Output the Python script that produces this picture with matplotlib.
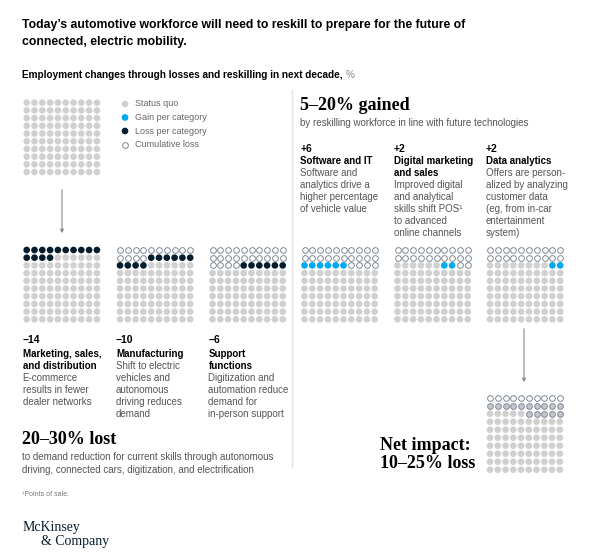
import matplotlib.pyplot as plt
import numpy as np

# values
loss_values = [-14, -10, -6]
loss_titles = ['Marketing, sales,\nand distribution', 'Manufacturing', 'Support\nfunctions']
loss_notes = ['E-commerce\nresults in fewer\ndealer networks',
              'Shift to electric\nvehicles and\nautonomous\ndriving reduces\ndemand',
              'Digitization and\nautomation reduce\ndemand for\nin-person support']
gain_values = [6, 2, 2]
gain_titles = ['Software and IT', 'Digital marketing\nand sales', 'Data analytics']
gain_notes = ['Software and\nanalytics drive a\nhigher percentage\nof vehicle value',
              'Improved digital\nand analytical\nskills shift POS\u00b9\nto advanced\nonline channels',
              'Offers are person-\nalized by analyzing\ncustomer data\n(eg, from in-car\nentertainment\nsystem)']
net_open_cells = list(range(0, 20)) + list(range(25, 30))

GREY = '#d0d0d0'
BLUE = '#00a9f4'
NAVY = '#051c2c'
RING = '#7d8894'
TXT = '#555555'
SANS = 'Liberation Sans'
SERIF = 'Liberation Serif'


def draw_grid(ax, x0, y0, states, dx=7.8, dy=7.7):
    """Draw a 10x10 dot grid from a list of 100 state codes."""
    idx = np.arange(100)
    xs = x0 + (idx % 10) * dx
    ys = y0 + (idx // 10) * dy
    states = np.array(states)
    style = {'q': dict(c=GREY, edgecolors='none'),
             'g': dict(c=BLUE, edgecolors='none'),
             'l': dict(c=NAVY, edgecolors='none'),
             'o': dict(c='white', edgecolors=RING, linewidths=0.7),
             'h': dict(c='#c4c8cc', edgecolors=RING, linewidths=0.7)}
    for k, st in style.items():
        m = states == k
        if m.any():
            size = 17 if k in 'oh' else 23
            ax.scatter(xs[m], ys[m], s=size, **st, zorder=3)


fig = plt.figure(figsize=(6.05, 5.59), dpi=100)
ax = fig.add_axes([0, 0, 1, 1])
ax.set_xlim(0, 605)
ax.set_ylim(559, 0)
ax.axis('off')

# header
ax.text(22, 25, 'Today\u2019s automotive workforce will need to reskill to prepare for the future of',
        fontsize=8.8, fontweight='bold', family=SANS, va='center')
ax.text(22, 42, 'connected, electric mobility.', fontsize=8.8, fontweight='bold', family=SANS, va='center')
t = ax.text(22, 75, 'Employment changes through losses and reskilling in next decade, ',
            fontsize=7.2, fontweight='bold', family=SANS, va='center')
ax.annotate('%', xycoords=t, xy=(1, 0.5), va='center', fontsize=7.2, family=SANS, color='#888888')

# status quo + legend
draw_grid(ax, 26.7, 102.7, ['q'] * 100)
legend = [('Status quo', 'q'), ('Gain per category', 'g'), ('Loss per category', 'l'), ('Cumulative loss', 'o')]
for i, (lab, code) in enumerate(legend):
    y = 104 + i * 13.5
    draw_grid(ax, 125, y, [code] + [''] * 99)
    ax.text(135, y, lab, fontsize=6.5, family=SANS, color='#666666', va='center')

ax.annotate('', xy=(62, 236), xytext=(62, 187),
            arrowprops=dict(arrowstyle='-|>', color='#888888', lw=0.8, mutation_scale=5))

# loss panels
xs_left = [26.7, 120, 212.5]
cum = 0
for k, v in enumerate(loss_values):
    n = -v
    states = ['o'] * cum + ['l'] * n + ['q'] * (100 - cum - n)
    draw_grid(ax, xs_left[k], 250, states)
    cum += n
    tx = xs_left[k] - 4
    ax.text(tx, 340, '\u2212%d' % n, fontsize=7.5, fontweight='bold', family=SANS, va='center')
    ax.text(tx, 349, loss_titles[k], fontsize=7, fontweight='bold', family=SANS, va='top', linespacing=1.25)
    nl = loss_titles[k].count('\n') + 1
    ax.text(tx, 349 + nl * 11.8, loss_notes[k], fontsize=7, family=SANS, color=TXT, va='top', linespacing=1.25)

total_loss = cum
total_gain = sum(gain_values)

# gain panels
xs_right = [304.5, 397.5, 490]
start = total_loss - total_gain
done = 0
for k, v in enumerate(gain_values):
    states = ['o'] * start + ['q'] * done + ['g'] * v + ['o'] * (total_loss - start - done - v)
    states += ['q'] * (100 - len(states))
    draw_grid(ax, xs_right[k], 250, states)
    done += v
    tx = xs_right[k] - 4
    ax.text(tx, 149, '+%d' % v, fontsize=7.5, fontweight='bold', family=SANS, va='center')
    ax.text(tx, 156, gain_titles[k], fontsize=7, fontweight='bold', family=SANS, va='top', linespacing=1.25)
    nl = gain_titles[k].count('\n') + 1
    ax.text(tx, 156 + nl * 11.8, gain_notes[k], fontsize=7, family=SANS, color=TXT, va='top', linespacing=1.25)

# net impact
net_states = ['q'] * 100
for c in net_open_cells:
    net_states[c] = 'o' if c < 10 else 'h'
draw_grid(ax, 490, 397.7, net_states, dx=7.75, dy=8.0)
ax.annotate('', xy=(524, 385), xytext=(524, 326),
            arrowprops=dict(arrowstyle='-|>', color='#888888', lw=0.8, mutation_scale=5))

# divider
ax.plot([292, 292], [90, 467], color='#e4e4e4', lw=1)

# headlines
ax.text(300, 105, '5\u201320% gained', fontsize=13, fontweight='bold', family=SERIF, va='center')
ax.text(300, 123, 'by reskilling workforce in line with future technologies', fontsize=7, family=SANS,
        color=TXT, va='center')
ax.text(22, 440, '20\u201330% lost', fontsize=13, fontweight='bold', family=SERIF, va='center')
ax.text(22, 457, 'to demand reduction for current skills through autonomous', fontsize=7, family=SANS,
        color=TXT, va='center')
ax.text(22, 470, 'driving, connected cars, digitization, and electrification', fontsize=7, family=SANS,
        color=TXT, va='center')
ax.text(380, 446, 'Net impact:', fontsize=13, fontweight='bold', family=SERIF, va='center')
ax.text(380, 463, '10\u201325% loss', fontsize=13, fontweight='bold', family=SERIF, va='center')

# footer
ax.text(22, 494, '\u00b9Points of sale.', fontsize=5, family=SANS, color='#777777', va='center')
ax.text(23, 527, 'McKinsey', fontsize=10, family=SERIF, color=NAVY, va='center')
ax.text(41, 541, '& Company', fontsize=10, family=SERIF, color=NAVY, va='center')

fig.savefig('out.png', dpi=100)
